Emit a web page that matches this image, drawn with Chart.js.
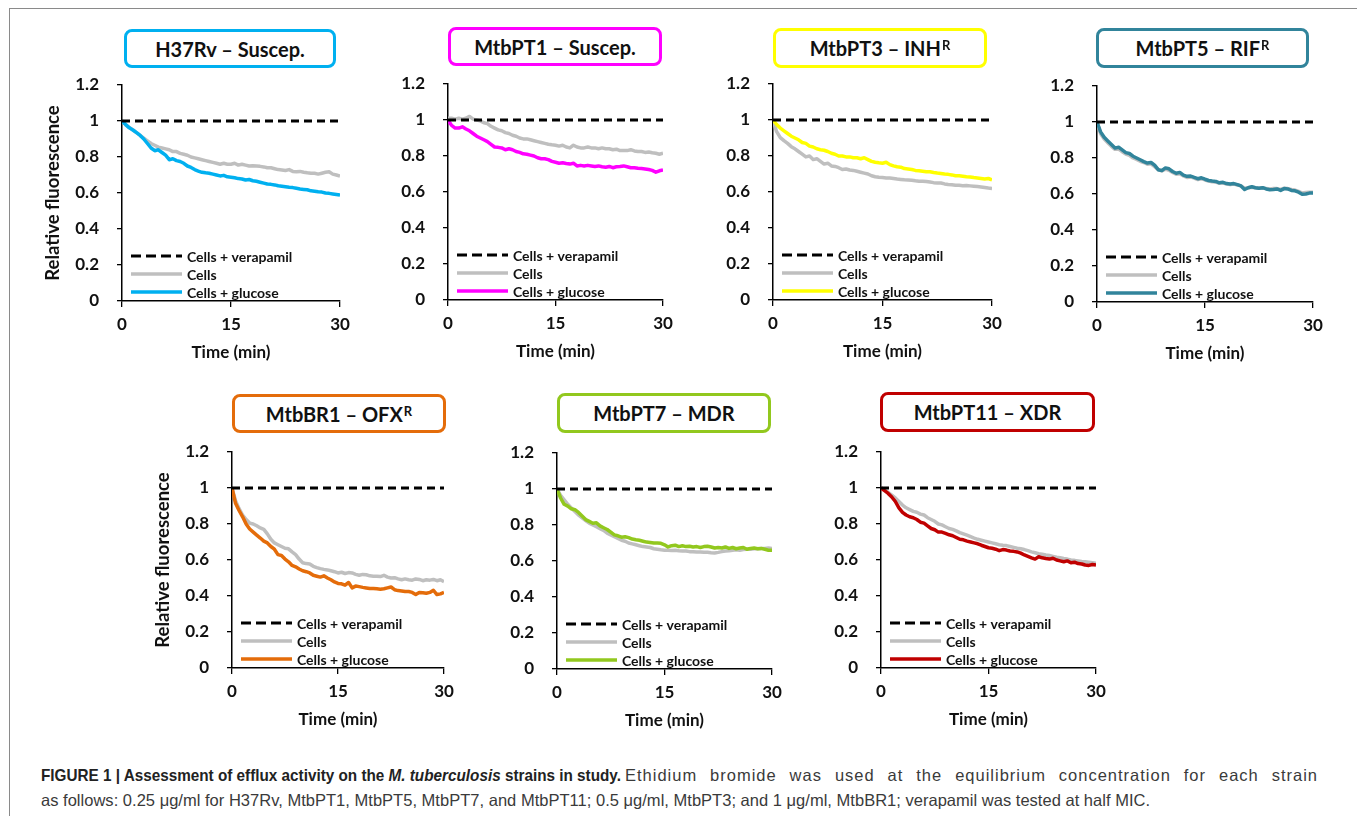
<!DOCTYPE html>
<html>
<head>
<meta charset="utf-8">
<script src="https://cdn.jsdelivr.net/npm/chart.js@4.4.1/dist/chart.umd.min.js"></script>
<style>
  html, body { margin: 0; padding: 0; background: #fff; }
  body { width: 1357px; height: 816px; position: relative; overflow: hidden; font-family: Lato, sans-serif; }
  .frame { position: absolute; left: 9px; top: 8px; width: 1400px; height: 900px; border-left: 1px solid #8a8a8a; border-top: 1px solid #8a8a8a; }
  canvas { position: absolute; }
  .title-box { position: absolute; box-sizing: border-box; border: 3px solid; border-radius: 8px; display: flex; align-items: center; justify-content: center; font-weight: 700; font-size: 20px; color: #111; background: #fff; }
  .title-box sup { font-size: 0.65em; position: relative; top: -3px; margin-left: 1px; }
  .caption { position: absolute; left: 41px; top: 763px; font-family: "Liberation Sans", Arial, sans-serif; font-size: 16.5px; line-height: 25px; color: #3a3a3a; white-space: nowrap; }
  .caption .cell { display: inline-block; vertical-align: top; overflow: visible; }
  .caption b { display: inline-block; color: #222; transform-origin: 0 0; }
  .caption .rest { text-align: justify; text-align-last: justify; }
</style>
</head>
<body>
<div class="frame"></div>
<div id="root"></div>
<div class="caption">
  <div><span class="cell" style="width:580px"><b id="boldText">FIGURE 1 | Assessment of efflux activity on the <i>M. tuberculosis</i> strains in study.</b></span><span class="cell rest" id="restText" style="margin-left:4px">Ethidium bromide was used at the equilibrium concentration for each strain</span></div>
  <div id="line2" style="display:inline-block">as follows: 0.25 μg/ml for H37Rv, MtbPT1, MtbPT5, MtbPT7, and MtbPT11; 0.5 μg/ml, MtbPT3; and 1 μg/ml, MtbBR1; verapamil was tested at half MIC.</div>
</div>
<script>
// time points (min)
const times = [0, 0.5, 1, 1.5, 2, 2.5, 3, 3.5, 4, 4.5, 5, 5.5, 6, 6.5, 7, 7.5, 8, 8.5, 9, 9.5,
    10, 10.5, 11, 11.5, 12, 12.5, 13, 13.5, 14, 14.5, 15, 15.5, 16, 16.5, 17, 17.5, 18, 18.5, 19, 19.5,
    20, 20.5, 21, 21.5, 22, 22.5, 23, 23.5, 24, 24.5, 25, 25.5, 26, 26.5, 27, 27.5, 28, 28.5, 29, 29.5, 30];

const verapamilTimes = [0, 30];
const verapamilValues = [1, 1];

const h37rvCells = [1.00, 0.98, 0.965, 0.95, 0.935, 0.92, 0.905, 0.89, 0.875, 0.865, 0.855, 0.85, 0.845, 0.84, 0.83, 0.83, 0.82, 0.815, 0.81, 0.80,
    0.795, 0.79, 0.785, 0.78, 0.775, 0.77, 0.765, 0.76, 0.765, 0.76, 0.76, 0.765, 0.755, 0.76, 0.755, 0.75, 0.752, 0.75, 0.748, 0.745,
    0.74, 0.74, 0.735, 0.73, 0.728, 0.725, 0.73, 0.72, 0.718, 0.72, 0.715, 0.712, 0.71, 0.71, 0.705, 0.71, 0.715, 0.718, 0.705, 0.70, 0.694];
const h37rvGlucose = [1.00, 0.98, 0.962, 0.95, 0.935, 0.92, 0.90, 0.875, 0.85, 0.835, 0.84, 0.825, 0.81, 0.785, 0.79, 0.78, 0.775, 0.765, 0.75, 0.742,
    0.73, 0.722, 0.715, 0.712, 0.71, 0.705, 0.70, 0.695, 0.698, 0.69, 0.688, 0.685, 0.68, 0.678, 0.672, 0.675, 0.668, 0.665, 0.66, 0.655,
    0.65, 0.648, 0.645, 0.64, 0.638, 0.635, 0.632, 0.63, 0.626, 0.622, 0.62, 0.618, 0.612, 0.61, 0.607, 0.605, 0.60, 0.598, 0.595, 0.592, 0.589];

const pt1Cells = [1.01, 1.01, 1.005, 1.01, 1.005, 1.01, 1.02, 1.005, 1.0, 0.995, 0.985, 0.98, 0.965, 0.955, 0.945, 0.94, 0.93, 0.925, 0.915, 0.91,
    0.90, 0.895, 0.895, 0.89, 0.885, 0.88, 0.875, 0.87, 0.865, 0.862, 0.86, 0.855, 0.86, 0.85, 0.845, 0.86, 0.85, 0.845, 0.845, 0.85,
    0.845, 0.845, 0.84, 0.845, 0.84, 0.84, 0.835, 0.838, 0.83, 0.83, 0.83, 0.835, 0.828, 0.825, 0.825, 0.82, 0.822, 0.818, 0.815, 0.81, 0.815];
const pt1Glucose = [1.0, 0.97, 0.955, 0.955, 0.962, 0.95, 0.94, 0.925, 0.91, 0.90, 0.89, 0.88, 0.865, 0.85, 0.848, 0.845, 0.835, 0.84, 0.835, 0.825,
    0.82, 0.812, 0.81, 0.805, 0.80, 0.79, 0.785, 0.785, 0.78, 0.77, 0.765, 0.76, 0.762, 0.758, 0.755, 0.76, 0.745, 0.748, 0.745, 0.748,
    0.745, 0.742, 0.745, 0.74, 0.738, 0.742, 0.735, 0.74, 0.742, 0.745, 0.74, 0.735, 0.735, 0.732, 0.73, 0.728, 0.725, 0.72, 0.71, 0.718, 0.723];

const pt3Cells = [1.0, 0.935, 0.902, 0.885, 0.87, 0.852, 0.84, 0.825, 0.81, 0.795, 0.80, 0.78, 0.785, 0.77, 0.755, 0.76, 0.745, 0.742, 0.735, 0.725,
    0.728, 0.722, 0.72, 0.715, 0.71, 0.705, 0.70, 0.69, 0.685, 0.682, 0.68, 0.678, 0.678, 0.675, 0.672, 0.67, 0.668, 0.667, 0.665, 0.662,
    0.66, 0.66, 0.658, 0.655, 0.652, 0.65, 0.65, 0.645, 0.642, 0.64, 0.638, 0.637, 0.635, 0.636, 0.634, 0.632, 0.63, 0.628, 0.625, 0.622, 0.62];
const pt3Glucose = [1.0, 0.975, 0.955, 0.94, 0.925, 0.91, 0.90, 0.89, 0.875, 0.87, 0.855, 0.85, 0.84, 0.835, 0.832, 0.825, 0.815, 0.81, 0.80, 0.80,
    0.795, 0.795, 0.79, 0.79, 0.785, 0.79, 0.78, 0.77, 0.765, 0.762, 0.76, 0.765, 0.752, 0.745, 0.74, 0.738, 0.73, 0.728, 0.725, 0.72,
    0.718, 0.715, 0.712, 0.712, 0.708, 0.705, 0.703, 0.70, 0.698, 0.695, 0.69, 0.69, 0.688, 0.685, 0.683, 0.68, 0.678, 0.675, 0.672, 0.675, 0.667];

const pt5Cells = [1.0, 0.935, 0.905, 0.885, 0.865, 0.848, 0.85, 0.835, 0.822, 0.815, 0.80, 0.792, 0.782, 0.775, 0.765, 0.768, 0.752, 0.735, 0.728, 0.738,
    0.732, 0.72, 0.71, 0.712, 0.70, 0.692, 0.695, 0.688, 0.68, 0.685, 0.678, 0.672, 0.668, 0.666, 0.66, 0.662, 0.655, 0.652, 0.655, 0.65,
    0.645, 0.632, 0.635, 0.638, 0.635, 0.632, 0.635, 0.63, 0.628, 0.63, 0.63, 0.625, 0.632, 0.63, 0.625, 0.622, 0.615, 0.605, 0.608, 0.61, 0.61];
const pt5Glucose = [1.0, 0.945, 0.915, 0.895, 0.875, 0.855, 0.86, 0.845, 0.83, 0.825, 0.81, 0.80, 0.79, 0.78, 0.772, 0.775, 0.76, 0.735, 0.73, 0.745,
    0.74, 0.725, 0.715, 0.72, 0.705, 0.698, 0.70, 0.692, 0.685, 0.69, 0.682, 0.675, 0.672, 0.67, 0.662, 0.665, 0.658, 0.655, 0.658, 0.652,
    0.645, 0.625, 0.635, 0.64, 0.635, 0.632, 0.635, 0.628, 0.624, 0.625, 0.628, 0.62, 0.63, 0.628, 0.62, 0.618, 0.61, 0.598, 0.60, 0.605, 0.605];

const br1Cells = [1.0, 0.93, 0.885, 0.85, 0.825, 0.805, 0.80, 0.79, 0.778, 0.77, 0.745, 0.715, 0.695, 0.685, 0.675, 0.665, 0.662, 0.645, 0.63, 0.605,
    0.585, 0.58, 0.578, 0.565, 0.558, 0.552, 0.548, 0.545, 0.54, 0.535, 0.528, 0.532, 0.525, 0.53, 0.528, 0.52, 0.515, 0.52, 0.518, 0.512,
    0.51, 0.51, 0.508, 0.515, 0.505, 0.50, 0.502, 0.495, 0.49, 0.495, 0.49, 0.488, 0.495, 0.492, 0.485, 0.49, 0.488, 0.492, 0.485, 0.49, 0.48];
const br1Glucose = [1.0, 0.915, 0.875, 0.84, 0.80, 0.772, 0.755, 0.738, 0.722, 0.705, 0.695, 0.675, 0.66, 0.63, 0.625, 0.605, 0.59, 0.57, 0.562, 0.55,
    0.54, 0.535, 0.528, 0.515, 0.51, 0.505, 0.512, 0.50, 0.49, 0.478, 0.47, 0.468, 0.46, 0.475, 0.445, 0.455, 0.452, 0.448, 0.445, 0.442,
    0.442, 0.44, 0.438, 0.44, 0.445, 0.45, 0.435, 0.43, 0.428, 0.425, 0.425, 0.42, 0.408, 0.42, 0.418, 0.415, 0.42, 0.432, 0.408, 0.412, 0.42];

const pt7Cells = [1.0, 0.965, 0.94, 0.915, 0.895, 0.875, 0.855, 0.84, 0.825, 0.81, 0.80, 0.79, 0.78, 0.77, 0.755, 0.745, 0.735, 0.725, 0.715, 0.71,
    0.70, 0.695, 0.69, 0.685, 0.68, 0.678, 0.675, 0.668, 0.665, 0.662, 0.66, 0.66, 0.658, 0.66, 0.657, 0.655, 0.655, 0.652, 0.652, 0.65,
    0.65, 0.648, 0.648, 0.646, 0.645, 0.648, 0.652, 0.655, 0.657, 0.66, 0.662, 0.66, 0.664, 0.665, 0.665, 0.668, 0.668, 0.67, 0.67, 0.672, 0.67];
const pt7Glucose = [1.0, 0.95, 0.915, 0.905, 0.89, 0.885, 0.87, 0.85, 0.83, 0.82, 0.81, 0.812, 0.795, 0.785, 0.775, 0.76, 0.745, 0.74, 0.732, 0.735,
    0.73, 0.722, 0.718, 0.715, 0.71, 0.705, 0.703, 0.70, 0.70, 0.698, 0.69, 0.678, 0.685, 0.688, 0.68, 0.685, 0.68, 0.682, 0.678, 0.68,
    0.675, 0.68, 0.682, 0.678, 0.672, 0.675, 0.672, 0.678, 0.67, 0.675, 0.668, 0.672, 0.675, 0.665, 0.67, 0.672, 0.668, 0.67, 0.665, 0.66, 0.66];

const pt11Cells = [1.0, 0.99, 0.975, 0.96, 0.945, 0.925, 0.905, 0.89, 0.88, 0.87, 0.865, 0.855, 0.85, 0.835, 0.825, 0.815, 0.80, 0.795, 0.785, 0.775,
    0.77, 0.762, 0.752, 0.745, 0.738, 0.73, 0.722, 0.715, 0.71, 0.705, 0.70, 0.695, 0.69, 0.685, 0.682, 0.68, 0.675, 0.67, 0.665, 0.662,
    0.658, 0.652, 0.645, 0.64, 0.635, 0.632, 0.628, 0.625, 0.62, 0.615, 0.612, 0.608, 0.605, 0.60, 0.598, 0.595, 0.592, 0.59, 0.588, 0.585, 0.582];
const pt11Glucose = [1.0, 0.985, 0.97, 0.95, 0.925, 0.89, 0.865, 0.85, 0.84, 0.835, 0.825, 0.81, 0.805, 0.79, 0.775, 0.768, 0.755, 0.755, 0.748, 0.74,
    0.735, 0.725, 0.715, 0.712, 0.705, 0.70, 0.695, 0.69, 0.682, 0.675, 0.668, 0.665, 0.66, 0.652, 0.658, 0.655, 0.65, 0.648, 0.645, 0.638,
    0.628, 0.62, 0.612, 0.605, 0.618, 0.612, 0.608, 0.605, 0.61, 0.60, 0.595, 0.59, 0.595, 0.585, 0.588, 0.58, 0.578, 0.572, 0.57, 0.575, 0.572];

const xTicks = [0, 15, 30];
const yTicks = [0, 0.2, 0.4, 0.6, 0.8, 1, 1.2];
const seriesLabels = ['Cells + verapamil', 'Cells', 'Cells + glucose'];

const GRAY = '#bfbfbf';
// y tick padding (18) is added to the scale's top padding, so the top pad must cover it
const AXIS_W = 92, PAD_TOP = 30, PAD_RIGHT = 22, AREA_H = 216, XAXIS_H = 74;

// plot area placement (chart area left/top/width) and title box for each panel
const panels = [
    { title: 'H37Rv – Suscep.', color: '#00b0f0', cells: h37rvCells, glucose: h37rvGlucose, left: 122, top: 85, w: 218, yTitle: true, box: [124, 29, 212, 39] },
    { title: 'MtbPT1 – Suscep.', color: '#ff00ff', cells: pt1Cells, glucose: pt1Glucose, left: 448, top: 84, w: 215, box: [448, 27, 214, 39] },
    { title: 'MtbPT3 – INH<sup>R</sup>', color: '#ffff00', cells: pt3Cells, glucose: pt3Glucose, left: 773, top: 84, w: 219, box: [773, 28, 214, 40] },
    { title: 'MtbPT5 – RIF<sup>R</sup>', color: '#31849b', cells: pt5Cells, glucose: pt5Glucose, left: 1097, top: 86, w: 216, box: [1096, 28, 213, 40] },
    { title: 'MtbBR1 – OFX<sup>R</sup>', color: '#e46c0a', cells: br1Cells, glucose: br1Glucose, left: 232, top: 452, w: 212, yTitle: true, box: [232, 394, 214, 39] },
    { title: 'MtbPT7 – MDR', color: '#92c81e', cells: pt7Cells, glucose: pt7Glucose, left: 557, top: 453, w: 215, box: [557, 393, 214, 40] },
    { title: 'MtbPT11 – XDR', color: '#c00000', cells: pt11Cells, glucose: pt11Glucose, left: 881, top: 452, w: 215, box: [880, 392, 215, 40] }
];

// caption: the bold lead-in is set condensed, line 1 is justified to x≈1318, line 2 runs to x≈1150
const boldText = document.getElementById('boldText');
boldText.style.transform = `scaleX(${(580 / boldText.getBoundingClientRect().width).toFixed(3)})`;
const restText = document.getElementById('restText');
const restGap = 693 - restText.getBoundingClientRect().width;
restText.style.letterSpacing = `${(restGap * 0.5 / restText.textContent.length).toFixed(3)}px`;
restText.style.width = '693px';
const line2 = document.getElementById('line2');
const line2Gap = 1109 - line2.getBoundingClientRect().width;
line2.style.letterSpacing = `${(line2Gap / line2.textContent.length).toFixed(3)}px`;

const pairs = (xs, ys) => ys.map((y, i) => ({ x: xs[i], y }));

// legend drawn inside the plot, bottom left, like the Excel original
const insideLegend = {
    id: 'insideLegend',
    afterDatasetsDraw(chart) {
        const { ctx, chartArea } = chart;
        ctx.save();
        ctx.font = 'bold 14px Lato';
        ctx.textBaseline = 'middle';
        chart.data.datasets.forEach((ds, i) => {
            const y = chartArea.bottom - 45 + i * 18;
            ctx.beginPath();
            ctx.setLineDash(ds.legendDash || []);
            ctx.strokeStyle = ds.borderColor;
            ctx.lineWidth = ds.borderWidth;
            ctx.moveTo(chartArea.left + 9, y);
            ctx.lineTo(chartArea.left + 60, y);
            ctx.stroke();
            ctx.setLineDash([]);
            ctx.fillStyle = '#111';
            ctx.fillText(ds.label, chartArea.left + 65, y + 1);
        });
        ctx.restore();
    }
};

Chart.defaults.font.family = 'Lato, sans-serif';
const root = document.getElementById('root');

panels.forEach((p) => {
    const box = document.createElement('div');
    box.className = 'title-box';
    box.style.cssText = `left:${p.box[0]}px;top:${p.box[1]}px;width:${p.box[2]}px;height:${p.box[3]}px;border-color:${p.color}`;
    box.innerHTML = p.title;
    root.appendChild(box);

    const canvas = document.createElement('canvas');
    const cw = AXIS_W + p.w + PAD_RIGHT;
    const ch = PAD_TOP + AREA_H + XAXIS_H;
    canvas.width = cw;
    canvas.height = ch;
    canvas.style.cssText = `left:${p.left - AXIS_W}px;top:${p.top - PAD_TOP}px;width:${cw}px;height:${ch}px`;
    root.appendChild(canvas);

    new Chart(canvas, {
        type: 'line',
        data: {
            datasets: [
                { label: seriesLabels[0], data: pairs(verapamilTimes, verapamilValues), borderColor: '#000', borderWidth: 3, borderDash: [8, 5], legendDash: [10, 5], order: 0 },
                { label: seriesLabels[1], data: pairs(times, p.cells), borderColor: GRAY, borderWidth: 3.5, order: 2 },
                { label: seriesLabels[2], data: pairs(times, p.glucose), borderColor: p.color, borderWidth: 3.5, order: 1 }
            ]
        },
        options: {
            responsive: false,
            animation: false,
            layout: { padding: { top: PAD_TOP, right: PAD_RIGHT, left: 0, bottom: 0 } },
            elements: {
                point: { radius: 0 },
                line: { tension: 0, borderJoinStyle: 'round' }
            },
            plugins: { legend: { display: false }, tooltip: { enabled: false } },
            scales: {
                x: {
                    type: 'linear',
                    min: 0,
                    max: 30,
                    afterBuildTicks: (s) => { s.ticks = xTicks.map((v) => ({ value: v })); },
                    afterFit: (s) => { s.height = XAXIS_H; },
                    grid: { drawOnChartArea: false, tickLength: 6, color: '#000', lineWidth: 1.3 },
                    border: { color: '#000', width: 1.5 },
                    ticks: { padding: 7, color: '#111', maxRotation: 0, font: { size: 17, weight: 'bold' }, callback: (v) => `${v}` },
                    title: { display: true, text: 'Time (min)', color: '#111', font: { size: 17, weight: 'bold' }, padding: { top: 0, bottom: 12 } }
                },
                y: {
                    min: 0,
                    max: 1.2,
                    afterBuildTicks: (s) => { s.ticks = yTicks.map((v) => ({ value: v })); },
                    afterFit: (s) => { s.width = AXIS_W; },
                    grid: { drawOnChartArea: false, tickLength: 5, color: '#000', lineWidth: 1.3 },
                    border: { color: '#000', width: 1.5 },
                    ticks: { padding: 18, color: '#111', font: { size: 17, weight: 'bold' }, callback: (v) => `${v}` },
                    title: { display: !!p.yTitle, text: 'Relative fluorescence', color: '#111', font: { size: 18.5, weight: 'bold' }, padding: { top: 12, bottom: 0 } }
                }
            }
        },
        plugins: [insideLegend]
    });
});
</script>
</body>
</html>
